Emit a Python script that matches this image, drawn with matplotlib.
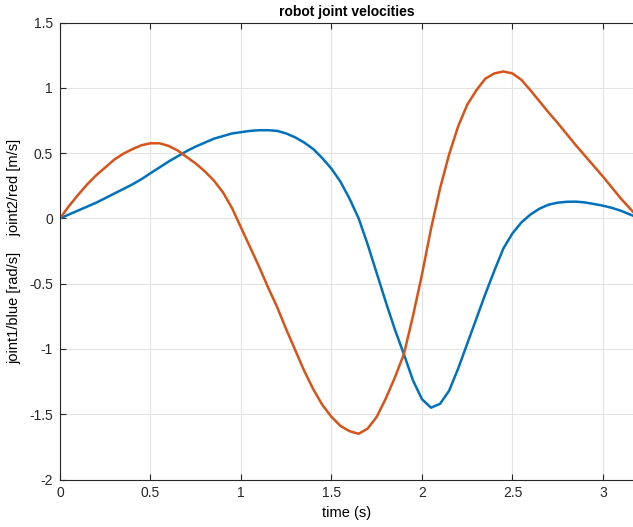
import matplotlib
matplotlib.use("Agg")
import matplotlib.pyplot as plt
import numpy as np

plt.rcParams['font.family'] = ['Liberation Sans', 'DejaVu Sans']

# time samples (s)
t = [0.0, 0.05, 0.1, 0.15, 0.2, 0.25, 0.3, 0.35, 0.4, 0.45, 0.5, 0.55, 0.6, 0.65,
     0.7, 0.75, 0.8, 0.85, 0.9, 0.95, 1.0, 1.05, 1.1, 1.15, 1.2, 1.25, 1.3, 1.35,
     1.4, 1.45, 1.5, 1.55, 1.6, 1.65, 1.7, 1.75, 1.8, 1.85, 1.9, 1.95, 2.0, 2.05,
     2.1, 2.15, 2.2, 2.25, 2.3, 2.35, 2.4, 2.45, 2.5, 2.55, 2.6, 2.65, 2.7, 2.75,
     2.8, 2.85, 2.9, 2.95, 3.0, 3.05, 3.1, 3.166]

# joint1 (blue) velocity [rad/s]
joint1 = [0.0, 0.03, 0.06, 0.09, 0.12, 0.155, 0.19, 0.225, 0.26, 0.30, 0.346, 0.39,
          0.435, 0.475, 0.515, 0.55, 0.58, 0.61, 0.63, 0.65, 0.66, 0.67, 0.675, 0.675,
          0.67, 0.65, 0.62, 0.58, 0.53, 0.46, 0.38, 0.28, 0.15, 0.0, -0.2, -0.42,
          -0.64, -0.85, -1.04, -1.24, -1.385, -1.45, -1.42, -1.32, -1.15, -0.96, -0.77,
          -0.58, -0.40, -0.23, -0.115, -0.03, 0.03, 0.075, 0.105, 0.12, 0.127, 0.128,
          0.122, 0.11, 0.097, 0.08, 0.058, 0.02]

# joint2 (red) velocity [m/s]
joint2 = [0.0, 0.095, 0.18, 0.26, 0.33, 0.39, 0.45, 0.495, 0.53, 0.56, 0.575, 0.575,
          0.555, 0.52, 0.47, 0.42, 0.36, 0.29, 0.2, 0.08, -0.07, -0.22, -0.37, -0.53,
          -0.68, -0.85, -1.01, -1.17, -1.31, -1.43, -1.52, -1.59, -1.63, -1.65, -1.61,
          -1.52, -1.38, -1.22, -1.04, -0.75, -0.43, -0.08, 0.23, 0.49, 0.705, 0.87,
          0.98, 1.07, 1.11, 1.125, 1.11, 1.06, 0.98, 0.895, 0.81, 0.73, 0.645, 0.56,
          0.48, 0.40, 0.32, 0.235, 0.15, 0.05]

xticks = [0, 0.5, 1, 1.5, 2, 2.5, 3]
yticks = [-2, -1.5, -1, -0.5, 0, 0.5, 1, 1.5]

fig = plt.figure(figsize=(6.33, 5.27), dpi=100)
ax = fig.add_axes([60 / 633, 47.5 / 527, 573 / 633, 457 / 527])

ts = np.array(t)
ax.plot(ts, joint1, color='#0072BD', lw=1.8, solid_joinstyle='round')
ax.plot(ts, joint2, color='#D95319', lw=1.8, solid_joinstyle='round')

ax.set_xlim(0, 3.166)
ax.set_ylim(-2, 1.5)
ax.set_xticks(xticks)
ax.set_xticklabels(['0', '0.5', '1', '1.5', '2', '2.5', '3'])
ax.set_yticks(yticks)
ax.set_yticklabels(['-2', '-1.5', '-1', '-0.5', '0', '0.5', '1', '1.5'])
ax.grid(True, color='#e3e3e3', lw=0.8)
ax.set_axisbelow(True)
ax.tick_params(direction='in', top=True, right=False, length=4, width=0.8,
               labelsize=10, colors='#262626', pad=5)
for s in ['left', 'top', 'bottom']:
    ax.spines[s].set_color('#262626')
    ax.spines[s].set_linewidth(0.8)
ax.spines['right'].set_visible(False)

ax.set_title('robot joint velocities', fontsize=10, fontweight='bold', pad=5)
ax.set_xlabel('time (s)', fontsize=10.5, labelpad=4)
ax.set_ylabel('joint1/blue [rad/s]    joint2/red [m/s]', fontsize=10.5, labelpad=6)

fig.savefig('out.png', dpi=100)
